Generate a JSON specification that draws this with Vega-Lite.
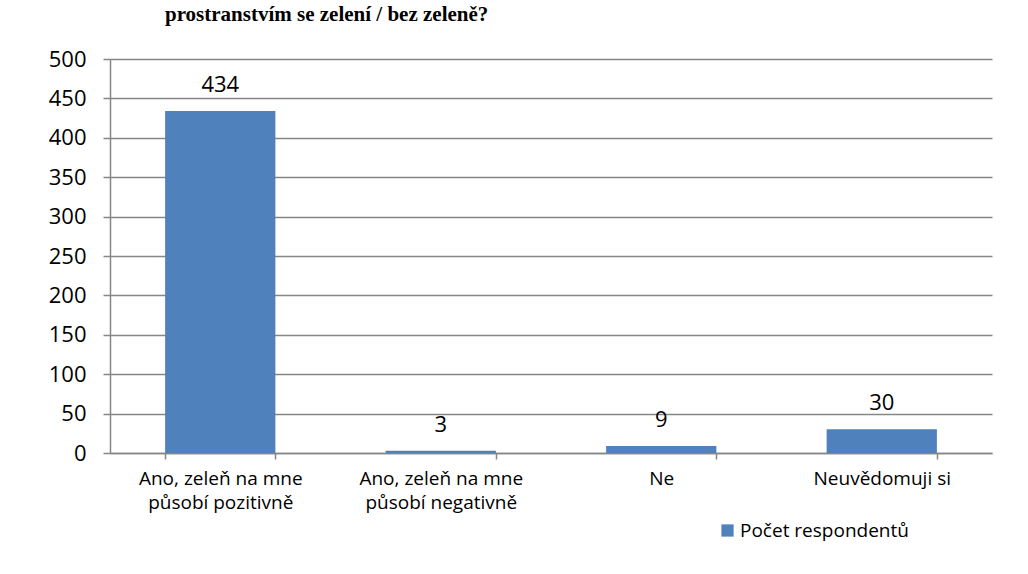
{
  "$schema": "https://vega.github.io/schema/vega-lite/v6.json",
  "width": 882,
  "height": 394,
  "autosize": {"type": "none"},
  "padding": {"left": 110, "top": 59, "right": 36, "bottom": 121},
  "background": "white",
  "title": {
    "text": "prostranstvím se zelení / bez zeleně?",
    "font": "Liberation Serif",
    "fontSize": 21,
    "fontWeight": "bold",
    "color": "black",
    "anchor": "start",
    "frame": "group",
    "baseline": "alphabetic",
    "offset": 6,
    "dx": 55
  },
  "data": {
    "values": [
      {"odpoved": "Ano, zeleň na mne působí pozitivně", "pocet": 434, "serie": "Počet respondentů"},
      {"odpoved": "Ano, zeleň na mne působí negativně", "pocet": 3, "serie": "Počet respondentů"},
      {"odpoved": "Ne", "pocet": 9, "serie": "Počet respondentů"},
      {"odpoved": "Neuvědomuji si", "pocet": 30, "serie": "Počet respondentů"}
    ]
  },
  "encoding": {
    "x": {
      "field": "odpoved",
      "type": "nominal",
      "sort": null,
      "scale": {"paddingInner": 0.5, "paddingOuter": 0.25},
      "axis": {
        "title": null,
        "labelAngle": 0,
        "labelFont": "Open Sans",
        "labelFontSize": 19,
        "labelColor": "black",
        "labelLineHeight": 24,
        "labelPadding": 10,
        "labelLimit": 0,
        "labelExpr": "split(replace(datum.label, ' působí', '|působí'), '|')",
        "tickBand": "extent",
        "tickSize": 6,
        "tickColor": "#868686",
        "tickWidth": 1.5,
        "domainColor": "#868686",
        "domainWidth": 1.5,
        "grid": false
      }
    },
    "y": {
      "field": "pocet",
      "type": "quantitative",
      "scale": {"domain": [0, 500]},
      "axis": {
        "title": null,
        "values": [0, 50, 100, 150, 200, 250, 300, 350, 400, 450, 500],
        "labelFont": "Open Sans",
        "labelFontSize": 22,
        "labelColor": "black",
        "labelPadding": 17,
        "tickSize": 7,
        "tickColor": "#868686",
        "tickWidth": 1.5,
        "domainColor": "#868686",
        "domainWidth": 1.5,
        "gridColor": "#868686",
        "gridWidth": 1.5
      }
    }
  },
  "layer": [
    {
      "mark": {"type": "bar", "color": "#4F81BD"},
      "encoding": {
        "color": {
          "field": "serie",
          "type": "nominal",
          "scale": {"range": ["#4F81BD"]},
          "legend": {
            "title": null,
            "orient": "none",
            "legendX": 608,
            "legendY": 462,
            "symbolType": "square",
            "symbolSize": 150,
            "symbolStrokeWidth": 0,
            "labelFont": "Open Sans",
            "labelFontSize": 19,
            "labelLimit": 0,
            "labelColor": "black",
            "labelOffset": 3
          }
        }
      }
    },
    {
      "mark": {"type": "text", "baseline": "alphabetic", "dy": -19, "font": "Open Sans", "fontSize": 22, "color": "black"},
      "encoding": {"text": {"field": "pocet", "type": "quantitative"}}
    }
  ],
  "config": {"view": {"stroke": null}}
}
